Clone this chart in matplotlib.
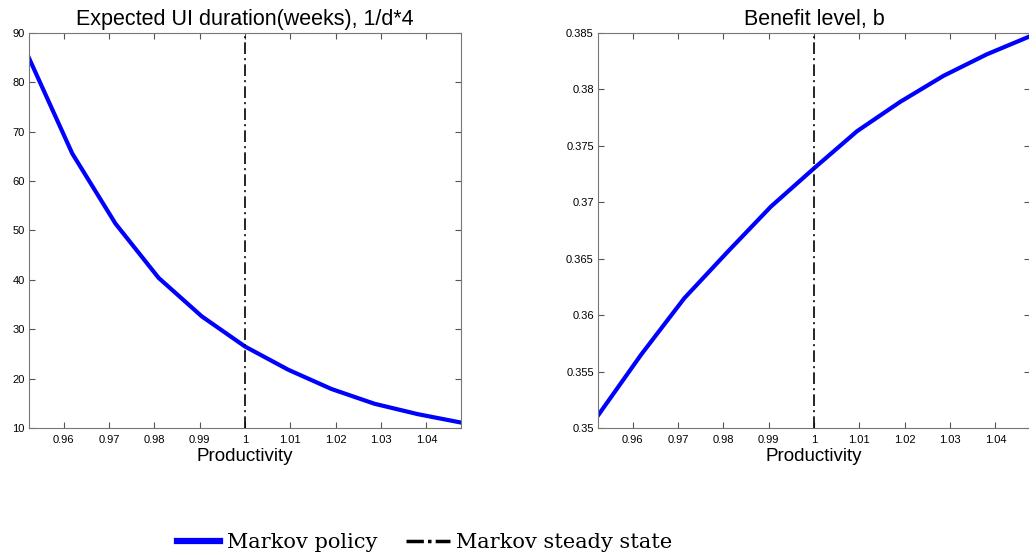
import numpy as np
from matplotlib import pyplot as plt
from matplotlib.lines import Line2D

# productivity grid
prod = np.linspace(0.95238, 1.04762, 11)
# expected UI duration (weeks), 1/d*4
duration = [84.9, 65.6, 51.4, 40.4, 32.6, 26.5, 21.8, 17.9, 14.9, 12.8, 11.1]
# benefit level b
benefit = [0.3511, 0.3565, 0.3615, 0.3656, 0.3696, 0.3730, 0.3763, 0.3789, 0.3812, 0.3831, 0.3847]
steady = 1.0

xticks = [0.96, 0.97, 0.98, 0.99, 1, 1.01, 1.02, 1.03, 1.04]
xticklabels = ["0.96", "0.97", "0.98", "0.99", "1", "1.01", "1.02", "1.03", "1.04"]

plt.rcParams['font.family'] = ['Liberation Sans', 'DejaVu Sans']

fig = plt.figure(figsize=(10.29, 5.58), dpi=100)
ax1 = fig.add_axes([0.0282, 0.233, 0.4198, 0.708])
ax2 = fig.add_axes([0.5811, 0.233, 0.4198, 0.708])

dash = (0, (7, 2.5, 1.2, 2.5))

def style(ax):
    ax.set_xlim(prod[0], prod[-1])
    ax.set_xticks(xticks)
    ax.set_xticklabels(xticklabels)
    ax.tick_params(direction='in', length=4, width=0.8, labelsize=8,
                   top=True, right=True, color='#555555')
    ax.tick_params(axis='x', pad=5)
    ax.tick_params(axis='y', pad=3)
    for s in ax.spines.values():
        s.set_color('#777777')
        s.set_linewidth(0.8)
    ax.set_xlabel("Productivity", fontsize=13.5, labelpad=2.5)

ax1.plot(prod, duration, color='#0000ff', lw=3)
ax1.axvline(steady, color='black', lw=1.2, linestyle=dash)
ax1.set_ylim(10, 90)
ax1.set_yticks(range(10, 91, 10))
ax1.set_title("Expected UI duration(weeks), 1/d*4", fontsize=15.5, pad=6)
style(ax1)

ax2.plot(prod, benefit, color='#0000ff', lw=3)
ax2.axvline(steady, color='black', lw=1.2, linestyle=dash)
ax2.set_ylim(0.35, 0.385)
ax2.set_yticks([0.35, 0.355, 0.36, 0.365, 0.37, 0.375, 0.38, 0.385])
ax2.set_yticklabels(["0.35", "0.355", "0.36", "0.365", "0.37", "0.375", "0.38", "0.385"])
ax2.set_title("Benefit level, b", fontsize=15.5, pad=6)
style(ax2)

handles = [Line2D([], [], color='#0000ff', lw=4.5),
           Line2D([], [], color='black', lw=2.5, linestyle=(0, (5, 1.2, 1, 1.2)))]
fig.legend(handles, ["Markov policy", "Markov steady state"], loc='center',
           bbox_to_anchor=(0.4125, 0.027), ncol=2, frameon=False,
           prop={'family': 'DejaVu Serif', 'size': 15},
           handlelength=2.1, handletextpad=0.3, columnspacing=1.4)

plt.savefig("out.png", dpi=100)
